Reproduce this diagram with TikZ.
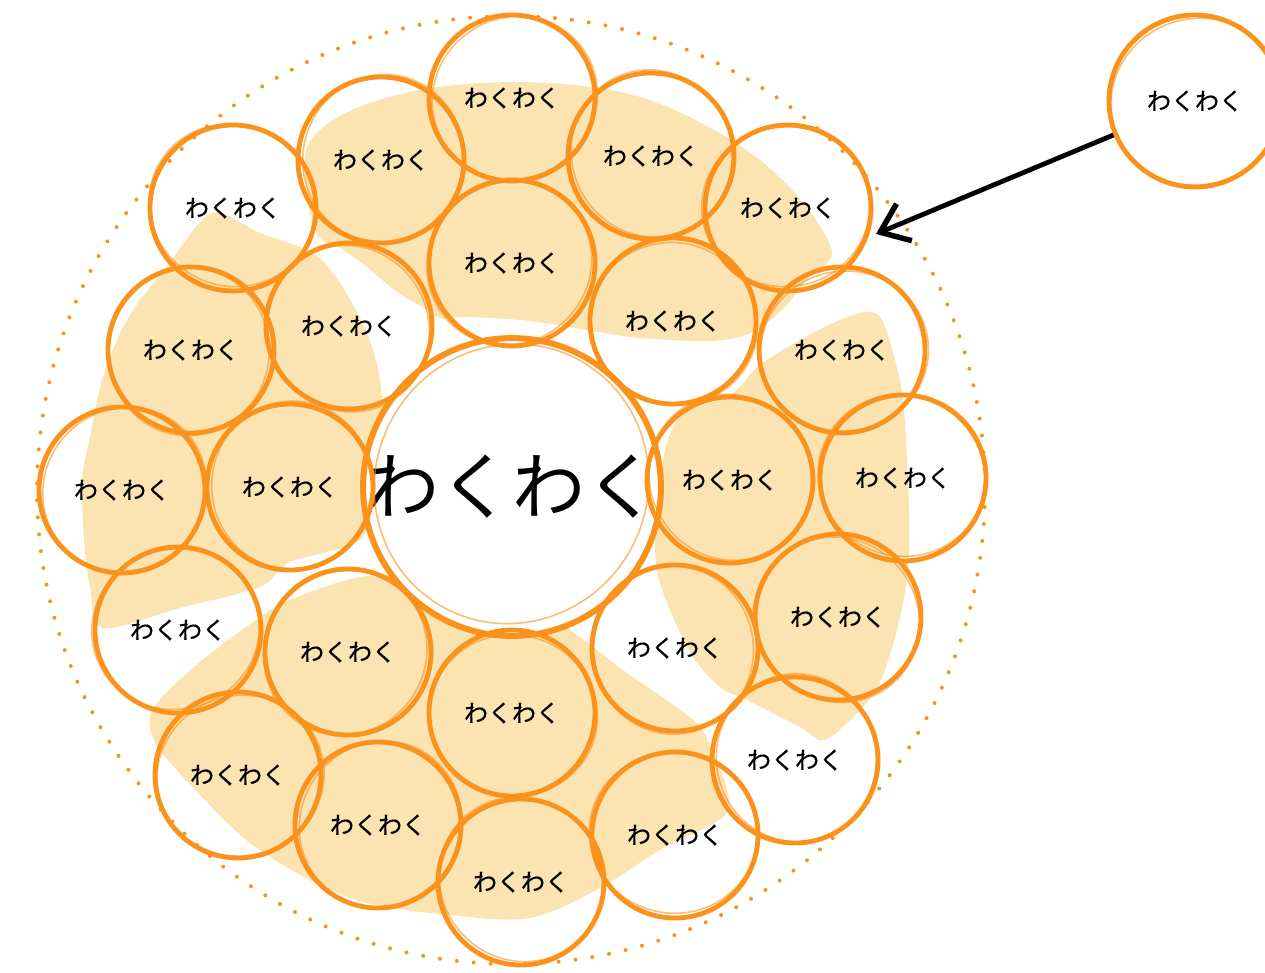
\documentclass[tikz,border=0pt]{standalone}
\usepackage{fontspec}
\newfontfamily\jp[FakeBold=0.6]{Noto Sans CJK JP}
\newfontfamily\jpbig{Noto Sans CJK JP}
\usetikzlibrary{arrows.meta}
\definecolor{ring}{RGB}{250,146,28}
\definecolor{blob}{RGB}{251,227,178}
\begin{document}
\begin{tikzpicture}[x=1pt,y=-1pt,
  bubble/.style={circle, draw=ring, line width=4.8pt, minimum size=166pt, inner sep=0pt,
    text=black, font=\jp\fontsize{24}{24}\selectfont},
  bigbubble/.style={circle, draw=ring, fill=white, line width=6pt, minimum size=280pt, inner sep=0pt,
    text=black, font=\jpbig\fontsize{73}{73}\selectfont},
  extbubble/.style={bubble, minimum size=172pt},
  sketch/.style={draw=ring, line width=1.6pt, opacity=.6},
  blobfill/.style={fill=blob, draw=none},
  dots/.style={draw=ring, line width=4pt, line cap=round, dash pattern=on 0pt off 17pt},
  arrowline/.style={draw=black, line width=4.8pt, -{Straight Barb[length=26pt,width=40pt,line width=5.5pt]}}
]
\useasboundingbox (0,0) rectangle (1265,973);

% background blobs
\fill[blobfill] plot[smooth cycle, tension=0.55] coordinates {
  (306,150) (330,122) (370,103) (430,88) (512,82) (592,87) (650,100) (705,125) (760,160)
  (805,205) (832,253) (808,278) (784,308) (751,333) (711,341) (640,338) (592,331) (530,321)
  (469,317) (440,318) (423,307) (397,292) (367,267) (340,248) (318,236) (308,200)};
\fill[blobfill] plot[smooth cycle, tension=0.5] coordinates {
  (212,213) (260,233) (313,253) (340,283) (367,333) (380,380) (383,440) (372,490) (360,540)
  (290,562) (260,587) (180,608) (103,628) (90,587) (84,540) (82,480) (90,437) (103,377)
  (127,320) (170,262)};
\fill[blobfill] plot[smooth cycle, tension=0.55] coordinates {
  (150,725) (157,703) (200,662) (260,617) (290,600) (360,577) (428,577) (490,590) (560,623)
  (620,668) (693,720) (712,750) (727,790) (723,817) (660,850) (600,888) (530,918) (449,915)
  (367,903) (310,880) (250,843) (200,795) (160,750)};
\fill[blobfill] plot[smooth cycle, tension=0.55] coordinates {
  (660,480) (668,440) (685,412) (730,395) (760,365) (800,340) (840,320) (867,312) (882,320)
  (895,360) (903,400) (908,480) (909,553) (901,613) (881,680) (857,713) (824,740) (800,727)
  (747,700) (720,687) (693,657) (670,610) (657,570) (655,520)};

% outer dotted ring
\draw[dots] (511,490) circle[radius=474];

% central bubble
\node[bigbubble] (cc) at (512,487) {わくわく};

% surrounding bubbles
\node[bubble] (c1)  at (512,98)  {わくわく};
\node[bubble] (c2)  at (381,160) {わくわく};
\node[bubble] (c3)  at (651,156) {わくわく};
\node[bubble] (c4)  at (233,208) {わくわく};
\node[bubble] (c5)  at (788,208) {わくわく};
\node[bubble] (c6)  at (512,263) {わくわく};
\node[bubble] (c7)  at (191,350) {わくわく};
\node[bubble] (c8)  at (349,326) {わくわく};
\node[bubble] (c9)  at (673,321) {わくわく};
\node[bubble] (c10) at (842,350) {わくわく};
\node[bubble] (c11) at (122,490) {わくわく};
\node[bubble] (c12) at (290,487) {わくわく};
\node[bubble] (c13) at (730,480) {わくわく};
\node[bubble] (c14) at (903,478) {わくわく};
\node[bubble] (c15) at (178,630) {わくわく};
\node[bubble] (c16) at (348,652) {わくわく};
\node[bubble] (c17) at (675,648) {わくわく};
\node[bubble] (c18) at (838,617) {わくわく};
\node[bubble] (c19) at (512,713) {わくわく};
\node[bubble] (c20) at (238,775) {わくわく};
\node[bubble] (c21) at (378,825) {わくわく};
\node[bubble] (c22) at (795,760) {わくわく};
\node[bubble] (c23) at (521,882) {わくわく};
\node[bubble] (c24) at (675,835) {わくわく};
\node[extbubble] (ext) at (1195,101) {わくわく};

% hand-drawn second strokes
\foreach \n [count=\i] in {c1,c2,c3,c4,c5,c6,c7,c8,c9,c10,c11,c12,c13,c14,c15,c16,c17,c18,c19,c20,c21,c22,c23,c24} {
  \draw[sketch, rotate around={\i*37:(\n.center)}] (\n.center) ++(2.2,1.5) ellipse[x radius=84, y radius=80];
}
\draw[sketch, rotate around={20:(ext.center)}] (ext.center) ++(2,1.5) ellipse[x radius=87, y radius=83];
\draw[sketch, rotate around={60:(cc.center)}] (cc.center) ++(2.5,-2) ellipse[x radius=141, y radius=136];

% arrow
\coordinate (tip) at (876,234);
\draw[arrowline] (ext) -- (tip);
\end{tikzpicture}
\end{document}
